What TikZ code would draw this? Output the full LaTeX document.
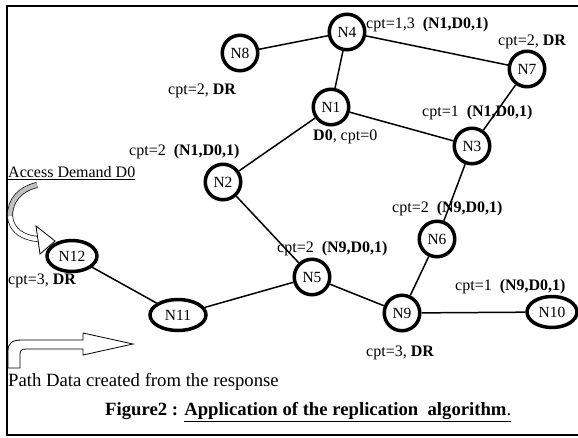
\documentclass[tikz,border=0pt]{standalone}
\usepackage{fontspec}
\setmainfont{Liberation Serif}
\usetikzlibrary{shapes.geometric}

\begin{document}
\begin{tikzpicture}[
        x=1pt, y=-1pt,
        site/.style={circle, draw=black, line width=3.5pt, minimum size=35.5pt, inner sep=0pt,
                     font=\fontsize{15.5}{18}\selectfont},
        oval/.style={ellipse, draw=black, line width=3.5pt, minimum width=54pt, minimum height=31pt,
                     inner sep=0pt, font=\fontsize{15.5}{18}\selectfont},
        link/.style={line width=1.5pt},
        info/.style={anchor=west, inner sep=0pt, font=\fontsize{16}{19}\selectfont},
        block/.style={line width=0.7pt, double distance=4.5pt}
    ]
        \useasboundingbox (0,0) rectangle (578,437);
        \draw[line width=2pt] (582,6) -- (7,6) -- (7,434.5) -- (582,434.5);

        \node[site] (n8) at (240,53) {N8};
        \node[site] (n4) at (347,32) {N4};
        \node[site] (n7) at (527,69) {N7};
        \node[site] (n1) at (331,107) {N1};
        \node[site] (n3) at (472,146) {N3};
        \node[site] (n2) at (223,182) {N2};
        \node[site] (n6) at (437,239) {N6};
        \node[site] (n5) at (312,277) {N5};
        \node[site] (n9) at (402,313) {N9};
        \node[oval, minimum width=50pt] (n10) at (552,312) {N10};
        \node[oval, minimum width=56pt] (n11) at (178,315) {N11};
        \node[oval, minimum width=50pt] (n12) at (72,256) {N12};

        \draw[link] (n8) -- (n4);
        \draw[link] (n4) -- (n1);
        \draw[link] (n4) -- (n7);
        \draw[link] (n1) -- (n2);
        \draw[link] (n1) -- (n3);
        \draw[link] (n7) -- (n3);
        \draw[link] (n3) -- (n6);
        \draw[link] (n2) -- (n5);
        \draw[link] (n6) -- (n9);
        \draw[link] (n5) -- (n9);
        \draw[link] (n9) -- (n10);
        \draw[link] (n5) -- (n11);
        \draw[link] (n11) -- (n12);

        \node[info] (l4) at (366,25) {cpt=1,3\ \ \textbf{(N1,D0,1)}};
        \node[info] (l7) at (498,42) {cpt=2, \textbf{DR}};
        \node[info] (l8) at (168,91) {cpt=2, \textbf{DR}};
        \node[info] (l1) at (313,137) {\textbf{D0}, cpt=0};
        \node[info] (l3) at (422,113) {cpt=1\ \ \textbf{(N1,D0,1)}};
        \node[info] (l2) at (129,152) {cpt=2\ \ \textbf{(N1,D0,1)}};
        \node[info] (l6) at (392,209) {cpt=2\ \ \textbf{(N9,D0,1)}};
        \node[info] (l5) at (277,249) {cpt=2\ \ \textbf{(N9,D0,1)}};
        \node[info] (l10) at (455,287) {cpt=1\ \ \textbf{(N9,D0,1)}};
        \node[info] (l9) at (366,353) {cpt=3, \textbf{DR}};
        \node[info] (l12) at (8,281) {cpt=3, \textbf{DR}};

        \node[info] (access) at (8,173) {\underline{Access Demand D0}};
        \node[info, font=\fontsize{18.7}{22}\selectfont] (pathdata) at (8,382) {Path Data created from the response};
        \node[info, font=\fontsize{18.7}{22}\selectfont] (caption) at (105,412)
            {\textbf{Figure2 :} \underline{\textbf{Application of the replication\ \ algorithm}.}};

        \coordinate (a0) at (37,185);
        \coordinate (a1) at (10,216);
        \coordinate (a2) at (38,239);
        \draw[block, double=gray!50] (a0) .. controls (20,189) and (10,200) .. (a1);
        \draw[block, double=white] (a1) .. controls (11,231) and (24,238) .. (a2);
        \draw[line width=0.8pt, fill=white] (36,226) -- (55,241) -- (40,254) -- cycle;

        \draw[line width=0.8pt, fill=white] (8,368) -- (8,351) .. controls (8,343) and (12,340) .. (22,340)
            -- (83,340) -- (83,333) -- (133,344) -- (83,355) -- (83,349) -- (26,349)
            .. controls (21,349) and (20,351) .. (20,355) -- (20,368) -- cycle;
    \end{tikzpicture}
\end{document}
